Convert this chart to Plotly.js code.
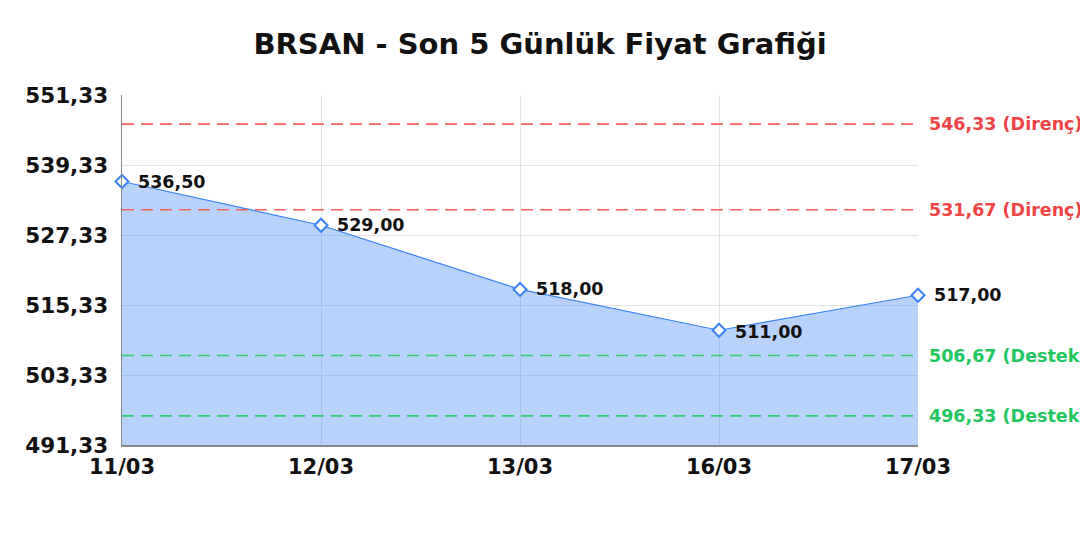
<!DOCTYPE html>
<html>
<head>
<meta charset="utf-8">
<script src="https://cdn.plot.ly/plotly-3.0.1.min.js"></script>
<style>html,body{margin:0;padding:0;background:#fff}#chart{width:1080px;height:540px}</style>
</head>
<body>
<div id="chart"></div>
<script>
// son 5 gun kapanis
var dates = ['11/03', '12/03', '13/03', '16/03', '17/03'];
var prices = [536.50, 529.00, 518.00, 511.00, 517.00];

var yTicks = [491.33, 503.33, 515.33, 527.33, 539.33, 551.33];

// direnc / destek seviyeleri
var levels = [546.33, 531.67, 506.67, 496.33];
var levelNames = ['Direnç', 'Direnç', 'Destek', 'Destek'];

var fmt = function (v) { return v.toFixed(2).replace('.', ','); };

var red = '#ef4444';
var green = '#22c55e';
var blue = '#3b82f6';
var fam = 'DejaVu Sans';

var trace = {
  type: 'scatter',
  mode: 'lines+markers',
  x: dates,
  y: prices,
  fill: 'tozeroy',
  fillcolor: 'rgba(59,130,246,0.36)',
  line: {color: blue, width: 1.2},
  marker: {symbol: 'diamond', size: 10, color: '#fff', line: {color: blue, width: 2}},
  cliponaxis: false,
  hoverinfo: 'skip'
};

var shapes = [];
var annotations = [];

// fiyat etiketleri
dates.forEach(function (d, i) {
  annotations.push({
    xref: 'x', x: d, yref: 'y', y: prices[i],
    xanchor: 'left', yanchor: 'middle', xshift: 14, yshift: (i == 3 ? -2 : 0),
    text: fmt(prices[i]), showarrow: false,
    font: {family: fam, size: 17.5, color: '#111', weight: 'bold'}
  });
});

levels.forEach(function (lv, i) {
  var c = levelNames[i] == 'Direnç' ? red : green;
  shapes.push({
    type: 'line', layer: 'above', xref: 'paper', x0: 0, x1: 1, yref: 'y', y0: lv, y1: lv,
    line: {color: (c == red ? '#f06060' : '#2ecc71'), width: 1.6, dash: '12px,7px'}
  });
  annotations.push({
    xref: 'paper', x: 1, xanchor: 'left', xshift: 9,
    yref: 'y', y: lv, yanchor: 'middle',
    text: fmt(lv) + ' (' + levelNames[i] + ')',
    showarrow: false,
    font: {family: fam, size: 17.5, color: c, weight: 'bold'}
  });
});

var layout = {
  width: 1080,
  height: 540,
  title: {
    text: 'BRSAN - Son 5 Günlük Fiyat Grafiği',
    font: {family: fam, size: 29, color: '#111', weight: 'bold'},
    x: 0.5, xanchor: 'center', y: 0.918, yanchor: 'middle'
  },
  separators: ',.',
  margin: {l: 122, r: 162, t: 95, b: 95},
  paper_bgcolor: '#fff',
  plot_bgcolor: '#fff',
  showlegend: false,
  xaxis: {
    type: 'category',
    range: [0, 4],
    showgrid: true,
    gridcolor: '#e3e3e3',
    showline: true,
    linecolor: '#888',
    linewidth: 1.5,
    zeroline: false,
    ticks: '',
    ticklabelstandoff: 2,
    tickfont: {family: fam, size: 21, color: '#111', weight: 'bold'}
  },
  yaxis: {
    range: [491.33, 551.33],
    tickvals: yTicks,
    ticktext: yTicks.map(fmt),
    showgrid: true,
    gridcolor: '#e3e3e3',
    showline: true,
    linecolor: '#888',
    linewidth: 1.5,
    zeroline: false,
    ticks: '',
    ticklabelstandoff: 8,
    tickfont: {family: fam, size: 21.5, color: '#111', weight: 'bold'}
  },
  shapes: shapes,
  annotations: annotations
};

Plotly.newPlot('chart', [trace], layout, {displayModeBar: false, staticPlot: true});
</script>
</body>
</html>
